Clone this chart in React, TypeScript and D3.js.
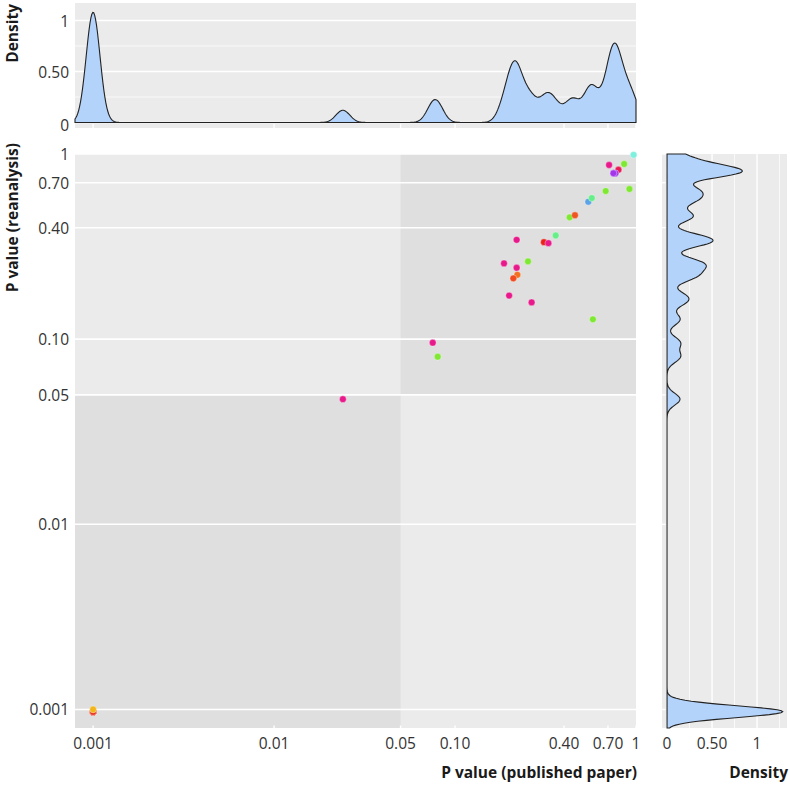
import * as d3 from "d3";
import React from "react";

// p values (published paper vs reanalysis)
const published = [
  0.76, 0.765, // hidden under the purple pair
  0.97, 0.71, 0.86, 0.8, 0.77, 0.75, 0.68, 0.92, 0.545, 0.57, 0.43, 0.46,
  0.36, 0.31, 0.328, 0.219, 0.253, 0.1865, 0.219, 0.221, 0.21, 0.199, 0.265,
  0.578, 0.0753, 0.0802, 0.024,
  0.001, 0.001, 0.001, 0.001, 0.001, 0.001, 0.001, 0.001, 0.001,
];
const reanalysis = [
  0.79, 0.785,
  0.99, 0.872, 0.883, 0.822, 0.787, 0.787, 0.631, 0.647, 0.552, 0.578, 0.455, 0.467,
  0.363, 0.334, 0.33, 0.344, 0.263, 0.2566, 0.243, 0.2227, 0.213, 0.172, 0.158,
  0.128, 0.0957, 0.0804, 0.0474,
  0.00097, 0.00097, 0.00097, 0.00097, 0.00097, 0.00097, 0.00097, 0.00097, 0.001,
];
const pointColors = [
  "#A336EA", "#A336EA",
  "#7FF0DD", "#E8198B", "#7FE833", "#EA1A55", "#A336EA", "#A336EA", "#7FE833", "#7FE833",
  "#5BA3E6", "#66EE88", "#7FE833", "#EE5520", "#66EE88", "#E82218", "#E8198B", "#E8198B",
  "#7FE833", "#E8198B", "#E8198B", "#F27020", "#F04A1E", "#E8198B", "#E8198B", "#7FE833",
  "#E8198B", "#7FE833", "#E8198B",
  "#E8301C", "#E8301C", "#E8301C", "#E8301C", "#E8301C", "#E8301C", "#E8301C", "#E8301C",
  "#F2B51C",
];

const pTicks = [0.001, 0.01, 0.05, 0.1, 0.4, 0.7, 1];
const pTickLabels = ["0.001", "0.01", "0.05", "0.10", "0.40", "0.70", "1"];
const densTicks = [0, 0.5, 1];
const densTickLabels = ["0", "0.50", "1"];
const densMinor = [0.25, 0.75, 1.25];

// kernel bandwidths on ln(p)
const BW_X = 0.0875;
const BW_Y = 0.0729;

const pLo = Math.pow(10, -3.1);
const font = "'Open Sans', 'Noto Sans', sans-serif";
const bgLight = "#EBEBEB";
const bgDark = "#DFDFDF";
const fillBlue = "#B4D3FA";

function kde(values: number[], bw: number): [number, number][] {
  const lo = Math.log(pLo);
  const grid = d3.range(0, 601).map((i) => lo + (i / 600) * (0 - lo));
  const logs = values.map((v) => Math.log(v));
  const c = 1 / (logs.length * bw * Math.sqrt(2 * Math.PI));
  return grid.map((t) => [Math.exp(t), c * d3.sum(logs, (v) => Math.exp(-0.5 * ((t - v) / bw) ** 2))]);
}

export default function App() {
  const W = 790, H = 785;
  const main = { left: 75, right: 636, top: 154, bottom: 728 };
  const top = { top: 3, bottom: 128 };
  const side = { left: 662, right: 787 };

  const x = d3.scaleLog().domain([pLo, 1]).range([main.left, main.right]);
  const y = d3.scaleLog().domain([pLo, 1]).range([main.bottom, main.top]);
  const dTop = d3.scaleLinear().domain([-0.054, 1.172]).range([top.bottom, top.top]);
  const dSide = d3.scaleLinear().domain([-0.056, 1.333]).range([side.left, side.right]);

  const densX = kde(published, BW_X);
  const densY = kde(reanalysis, BW_Y);

  const topArea = d3
    .area<[number, number]>()
    .x((d) => x(d[0]))
    .y0(dTop(0))
    .y1((d) => dTop(d[1]));
  const sideArea = d3
    .area<[number, number]>()
    .y((d) => y(d[0]))
    .x0(dSide(0))
    .x1((d) => dSide(d[1]));

  const tickText = { fontFamily: font, fontSize: 15.5, fill: "#333" };
  const titleText = { fontFamily: font, fontSize: 15.5, fontWeight: 700, fill: "#1a1a1a" };

  return (
    <svg width={W} height={H} style={{ position: "absolute", left: 0, top: 0, background: "#fff" }}>
      {/* top density panel */}
      <rect x={main.left} y={top.top} width={main.right - main.left} height={top.bottom - top.top} fill={bgLight} />
      {pTicks.map((t) => (
        <line key={t} x1={x(t)} x2={x(t)} y1={dTop(0) + 1.5} y2={top.bottom} stroke="#fff" strokeWidth={1.4} />
      ))}
      {densMinor.filter((t) => t < 1.1).map((t) => (
        <line key={t} x1={main.left} x2={main.right} y1={dTop(t)} y2={dTop(t)} stroke="#fff" strokeWidth={0.7} />
      ))}
      {densTicks.map((t) => (
        <line key={t} x1={main.left} x2={main.right} y1={dTop(t)} y2={dTop(t)} stroke="#fff" strokeWidth={1.4} />
      ))}
      <path d={topArea(densX) ?? undefined} fill={fillBlue} stroke="#222" strokeWidth={1.1} />
      {densTicks.map((t, i) => (
        <text key={t} x={main.left - 6} y={dTop(t) + (t === 0 ? 3 : 0)} textAnchor="end" dominantBaseline="central" {...tickText}>
          {densTickLabels[i]}
        </text>
      ))}
      <text transform={`translate(18,${top.top + 1}) rotate(-90)`} textAnchor="end" {...titleText}>
        Density
      </text>

      {/* main scatter panel: quadrants split at p = 0.05 */}
      <rect x={main.left} y={main.top} width={main.right - main.left} height={main.bottom - main.top} fill={bgLight} />
      <rect x={x(0.05)} y={y(1)} width={x(1) - x(0.05)} height={y(0.05) - y(1)} fill={bgDark} />
      <rect x={x(pLo)} y={y(0.05)} width={x(0.05) - x(pLo)} height={y(pLo) - y(0.05)} fill={bgDark} />
      {pTicks.map((t) => (
        <line key={t} x1={x(t)} x2={x(t)} y1={main.bottom - 2.5} y2={main.bottom} stroke="#fff" strokeWidth={1.4} />
      ))}
      {pTicks.map((t) => (
        <line key={t} x1={main.left} x2={main.right} y1={y(t)} y2={y(t)} stroke="#fff" strokeWidth={1.6} />
      ))}
      {published.map((p, i) => (
        <circle
          key={i}
          cx={x(p)}
          cy={y(reanalysis[i])}
          r={3.4}
          fill={pointColors[i]}
          stroke="#fff"
          strokeOpacity={0.45}
          strokeWidth={0.8}
        />
      ))}
      {pTicks.map((t, i) => (
        <text key={t} x={main.left - 6} y={y(t)} textAnchor="end" dominantBaseline="central" {...tickText}>
          {pTickLabels[i]}
        </text>
      ))}
      {pTicks.map((t, i) => (
        <text key={t} x={x(t)} y={main.bottom + 15} textAnchor="middle" dominantBaseline="central" {...tickText}>
          {pTickLabels[i]}
        </text>
      ))}
      <text transform={`translate(18,143) rotate(-90)`} textAnchor="end" {...titleText}>
        P value (reanalysis)
      </text>
      <text x={main.right + 1} y={778} textAnchor="end" {...titleText}>
        P value (published paper)
      </text>

      {/* right density panel */}
      <rect x={side.left} y={main.top} width={side.right - side.left} height={main.bottom - main.top} fill={bgLight} />
      {pTicks.map((t) => (
        <line key={t} x1={side.left} x2={dSide(0) - 1.5} y1={y(t)} y2={y(t)} stroke="#fff" strokeWidth={1.4} />
      ))}
      {densMinor.map((t) => (
        <line key={t} x1={dSide(t)} x2={dSide(t)} y1={main.top} y2={main.bottom} stroke="#fff" strokeWidth={0.7} />
      ))}
      {densTicks.map((t) => (
        <line key={t} x1={dSide(t)} x2={dSide(t)} y1={main.top} y2={main.bottom} stroke="#fff" strokeWidth={1.4} />
      ))}
      <path d={sideArea(densY) ?? undefined} fill={fillBlue} stroke="#222" strokeWidth={1.1} />
      {densTicks.map((t, i) => (
        <text key={t} x={dSide(t)} y={main.bottom + 15} textAnchor="middle" dominantBaseline="central" {...tickText}>
          {densTickLabels[i]}
        </text>
      ))}
      <text x={side.right + 1} y={778} textAnchor="end" {...titleText}>
        Density
      </text>
    </svg>
  );
}
